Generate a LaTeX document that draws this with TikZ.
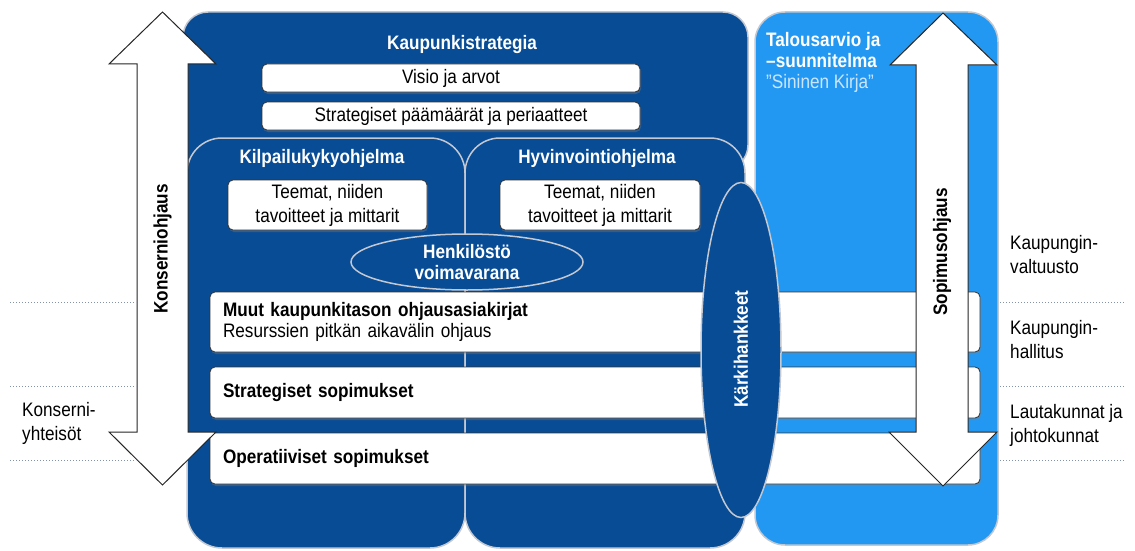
\documentclass[tikz,border=0pt]{standalone}
\usepackage{fontspec}
\setmainfont{Liberation Sans}[FakeStretch=0.88]
\usetikzlibrary{shapes.geometric,shadows}

\definecolor{darkblue}{RGB}{8,76,150}
\definecolor{lightblue}{RGB}{35,152,242}
\definecolor{bevel}{RGB}{196,200,208}
\definecolor{guidegray}{RGB}{130,145,172}
\definecolor{kirjablue}{RGB}{205,230,255}

\newcommand\diafont{\fontsize{19.5}{24}\selectfont}

\tikzset{
  panel/.style={fill=darkblue, draw=bevel, line width=1.5pt,
    rounded corners=#1, inner sep=0pt},
  panel/.default=25pt,
  whitebar/.style={fill=white, draw=black!80, line width=0.8pt,
    rounded corners=5pt, inner sep=0pt, align=center,
    drop shadow={opacity=0.35, shadow xshift=1pt, shadow yshift=-2pt}},
  longbar/.style={whitebar, align=left, inner xsep=13pt,
    text width=744pt, minimum height=#1},
  blob/.style={ellipse, fill=darkblue, draw=bevel, line width=1.5pt,
    inner sep=0pt, text=white, font=\diafont\bfseries, align=center},
  title/.style={text=white, font=\diafont\bfseries},
  bigarrow/.style={fill=white, draw=black!85, line width=1pt},
  guide/.style={draw=guidegray, dotted, line width=1pt},
  side/.style={anchor=west, align=left, inner sep=0pt}
}

\begin{document}
\begin{tikzpicture}[x=1pt, y=-1pt,
    every node/.style={font=\diafont}]
\useasboundingbox (0,0) rectangle (1135,551);

% background panels
\node[panel, minimum width=565pt, minimum height=158pt] (strat) at (465.5,91) {};
\node[panel=30pt, fill=lightblue, minimum width=243pt, minimum height=533pt] (budget) at (876.5,278.5) {};
\node[panel=35pt, minimum width=278pt, minimum height=410pt] (kilp) at (326,343) {};
\node[panel=35pt, minimum width=280pt, minimum height=410pt] (hyv) at (605,343) {};
\fill[darkblue] (185,178) rectangle (212,432);
\draw[black!70] (185,432) -- (212,432);

% Kaupunkistrategia
\node[title] (strattitle) at (462,45) {Kaupunkistrategia};
\node[whitebar, minimum width=378pt, minimum height=28pt] (visio) at (451,78) {Visio ja arvot};
\node[whitebar, minimum width=378pt, minimum height=28pt] (paamaarat) at (451,116)
    {Strategiset päämäärät ja periaatteet};

% ohjelmat
\node[title] (kilptitle) at (322,158) {Kilpailukykyohjelma};
\node[title] (hyvtitle) at (597,158) {Hyvinvointiohjelma};
\node[whitebar, minimum width=199pt, minimum height=50pt] (teemat1) at (327.5,205)
    {Teemat, niiden\\tavoitteet ja mittarit};
\node[whitebar, minimum width=200pt, minimum height=50pt] (teemat2) at (600,205)
    {Teemat, niiden\\tavoitteet ja mittarit};
\node[blob, minimum width=232pt, minimum height=56pt] (henk) at (467,262)
    {Henkilöstö\\[-3pt]voimavarana};

% Talousarvio
\node[anchor=north west, align=left, inner sep=0pt, text=white] (talous) at (766,32)
    {\textbf{Talousarvio ja}\\[-3pt]\textbf{–suunnitelma}\\[-3pt]\color{kirjablue}\symbol{34}Sininen Kirja\symbol{34}};

% ohjausasiakirjat ja sopimukset
\node[longbar=60pt] (muut) at (595,322)
    {\textbf{Muut kaupunkitason ohjausasiakirjat}\\[-3pt]Resurssien pitkän aikavälin ohjaus};
\node[longbar=51pt] (strsop) at (595,392.5) {\textbf{Strategiset sopimukset}};
\node[longbar=51pt] (opsop) at (595,458.5) {\textbf{Operatiiviset sopimukset}};

\node[blob, minimum width=80pt, minimum height=335pt] (kark) at (741,350) {};
\node[text=white, font=\diafont\bfseries, rotate=90] (karktext) at (741,349) {Kärkihankkeet};

% ohjausnuolet
\draw[bigarrow] (137,64) -- (109,64) -- (162.5,12) -- (216,64) -- (188,64)
  -- (188,432) -- (216,432) -- (162.5,485) -- (109,432) -- (137,432) -- cycle;
\node[font=\diafont\bfseries, rotate=90] (konserni) at (162.5,249) {Konserniohjaus};
\draw[bigarrow] (916,65) -- (890,65) -- (943,13) -- (997,65) -- (968,65)
  -- (968,432) -- (997,432) -- (943,486) -- (889,432) -- (916,432) -- cycle;
\node[font=\diafont\bfseries, rotate=90] (sopimus) at (942,252) {Sopimusohjaus};

% tasot
\draw[guide] (10,302) -- (136,302);
\draw[guide] (10,386) -- (136,386);
\draw[guide] (10,460) -- (136,460);
\draw[guide] (1000,302) -- (1125,302);
\draw[guide] (1000,386) -- (1125,386);
\draw[guide] (1000,460) -- (1125,460);

\node[side] (valtuusto) at (1010,255) {Kaupungin-\\valtuusto};
\node[side] (hallitus) at (1010,340) {Kaupungin-\\hallitus};
\node[side] (lautakunnat) at (1010,425) {Lautakunnat ja\\johtokunnat};
\node[side] (yhteisot) at (22,423) {Konserni-\\yhteisöt};
\end{tikzpicture}
\end{document}
